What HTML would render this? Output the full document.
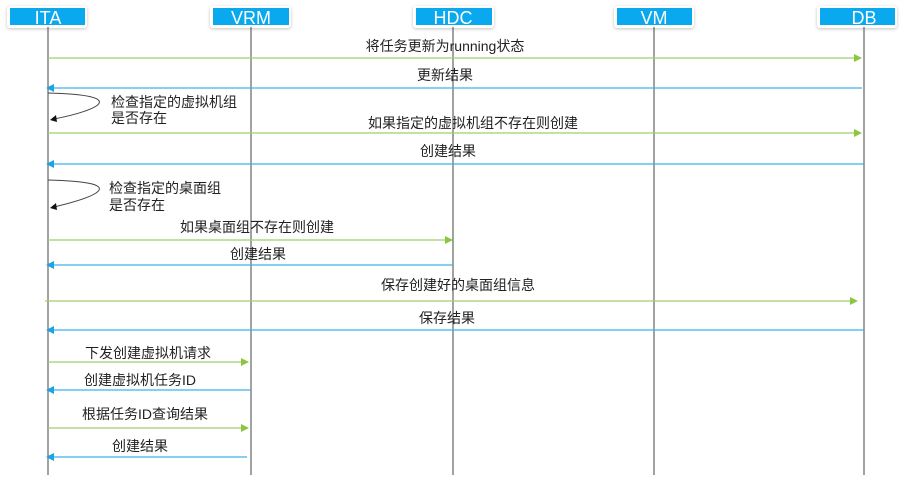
<!DOCTYPE html>
<html><head><meta charset="utf-8"><style>
html,body{margin:0;padding:0;background:#fff;}
svg{display:block;}
text{font-family:"Liberation Sans","Noto Sans CJK SC",sans-serif;font-size:14px;fill:#222;}
.h{fill:#fff;font-size:18px;text-anchor:middle;}
.g{stroke:#9fcf6a;stroke-width:1.2;}
.b{stroke:#3fb0ea;stroke-width:1.2;}
.l{stroke:#444;stroke-width:1;}
.c{text-anchor:middle;}
</style></head><body>
<svg width="903" height="478" viewBox="0 0 903 478">
<defs>
<filter id="sh" x="-10%" y="-30%" width="120%" height="160%"><feDropShadow dx="0" dy="1" stdDeviation="1.5" flood-color="#999" flood-opacity="0.6"/></filter>
</defs>
<g filter="url(#sh)">
<rect x="7" y="6" width="80" height="22" rx="3" fill="#fff"/>
<rect x="210" y="6" width="81" height="22" rx="3" fill="#fff"/>
<rect x="413" y="6" width="81" height="22" rx="3" fill="#fff"/>
<rect x="614" y="6" width="80" height="22" rx="3" fill="#fff"/>
<rect x="817" y="6" width="80" height="22" rx="3" fill="#fff"/>
</g>
<rect x="10" y="8" width="75" height="17" fill="#0aa8ee"/>
<rect x="213" y="8" width="76" height="17" fill="#0aa8ee"/>
<rect x="416" y="8" width="76" height="17" fill="#0aa8ee"/>
<rect x="617" y="8" width="75" height="17" fill="#0aa8ee"/>
<rect x="820" y="8" width="75" height="17" fill="#0aa8ee"/>
<text class="h" x="48" y="24">ITA</text>
<text class="h" x="251" y="24">VRM</text>
<text class="h" x="453" y="24">HDC</text>
<text class="h" x="654" y="24">VM</text>
<text class="h" x="864" y="24">DB</text>
<line class="l" x1="48" y1="27" x2="48" y2="475"/>
<line class="l" x1="251" y1="27" x2="251" y2="475"/>
<line class="l" x1="453" y1="27" x2="453" y2="475"/>
<line class="l" x1="654" y1="27" x2="654" y2="475"/>
<line class="l" x1="864" y1="27" x2="864" y2="475"/>

<line class="g" x1="48" y1="58" x2="856" y2="58"/><polygon points="862,58 854,54 854,62" fill="#8cc63f"/>
<text class="c" x="445" y="51">将任务更新为running状态</text>
<line class="b" x1="54" y1="88" x2="862" y2="88"/><polygon points="46,88 54,84 54,92" fill="#1ea1e6"/>
<text class="c" x="445" y="80">更新结果</text>
<path d="M48,93 C130,95 100,110 54,119" fill="none" stroke="#444" stroke-width="1"/>
<polygon points="50,120 56,115 57,122" fill="#111"/>
<text x="111" y="107">检查指定的虚拟机组</text>
<text x="111" y="123">是否存在</text>
<line class="g" x1="48" y1="133" x2="856" y2="133"/><polygon points="862,133 854,129 854,137" fill="#8cc63f"/>
<text class="c" x="473" y="128">如果指定的虚拟机组不存在则创建</text>
<line class="b" x1="54" y1="164" x2="864" y2="164"/><polygon points="46,164 54,160 54,168" fill="#1ea1e6"/>
<text class="c" x="448" y="156">创建结果</text>
<path d="M48,180 C130,182 100,196 54,207" fill="none" stroke="#444" stroke-width="1"/>
<polygon points="50,208 56,203 57,210" fill="#111"/>
<text x="109" y="193">检查指定的桌面组</text>
<text x="109" y="210">是否存在</text>
<line class="g" x1="48" y1="240" x2="447" y2="240"/><polygon points="453,240 445,236 445,244" fill="#8cc63f"/>
<text class="c" x="257" y="232">如果桌面组不存在则创建</text>
<line class="b" x1="54" y1="265" x2="453" y2="265"/><polygon points="46,265 54,261 54,269" fill="#1ea1e6"/>
<text class="c" x="258" y="259">创建结果</text>
<line class="g" x1="45" y1="301" x2="852" y2="301"/><polygon points="858,301 850,297 850,305" fill="#8cc63f"/>
<text class="c" x="458" y="290">保存创建好的桌面组信息</text>
<line class="b" x1="54" y1="330" x2="864" y2="330"/><polygon points="46,330 54,326 54,334" fill="#1ea1e6"/>
<text class="c" x="447" y="323">保存结果</text>
<line class="g" x1="48" y1="362" x2="243" y2="362"/><polygon points="249,362 241,358 241,366" fill="#8cc63f"/>
<text class="c" x="148" y="358">下发创建虚拟机请求</text>
<line class="b" x1="54" y1="390" x2="251" y2="390"/><polygon points="46,390 54,386 54,394" fill="#1ea1e6"/>
<text class="c" x="140" y="385">创建虚拟机任务ID</text>
<line class="g" x1="48" y1="428" x2="243" y2="428"/><polygon points="249,428 241,424 241,432" fill="#8cc63f"/>
<text class="c" x="145" y="419">根据任务ID查询结果</text>
<line class="b" x1="54" y1="457" x2="247" y2="457"/><polygon points="46,457 54,453 54,461" fill="#1ea1e6"/>
<text class="c" x="140" y="451">创建结果</text>
</svg>
</body></html>
